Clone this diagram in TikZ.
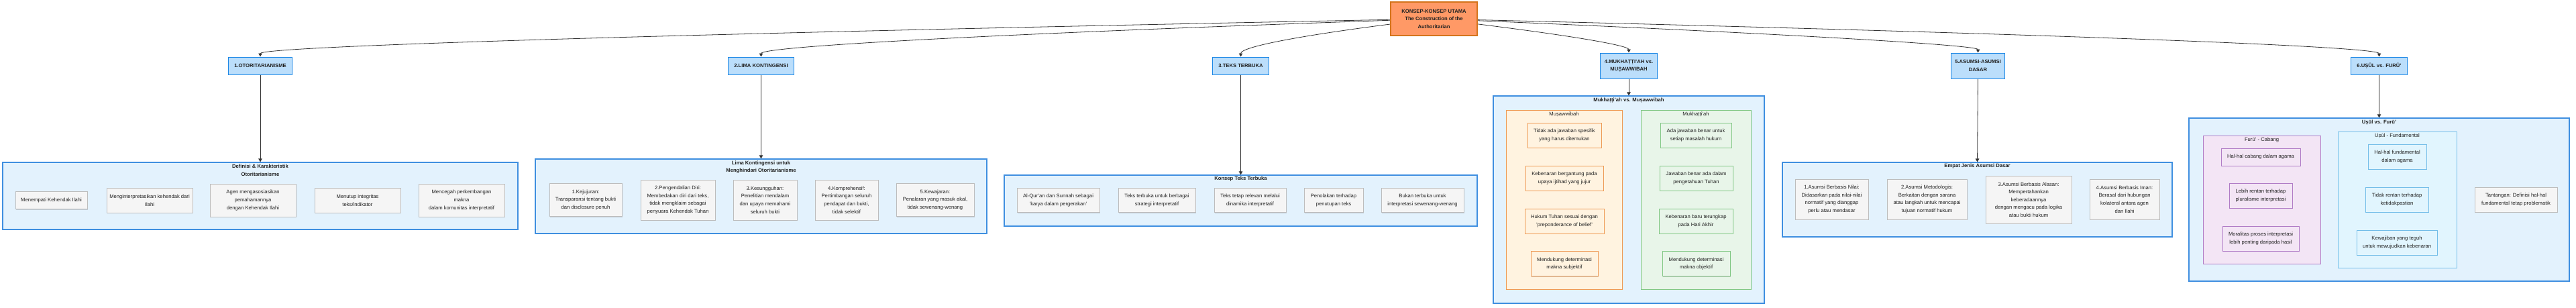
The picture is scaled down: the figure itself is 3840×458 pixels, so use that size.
\documentclass[tikz,border=0pt]{standalone}
\usepackage{fontspec}
\setmainfont{Liberation Sans}
\usetikzlibrary{arrows.meta,calc,fit,shadows}
\definecolor{txt}{HTML}{222222}
\definecolor{rootfill}{HTML}{FF9966}
\definecolor{rootdraw}{HTML}{D4741C}
\definecolor{nfill}{HTML}{BBDEFB}
\definecolor{ndraw}{HTML}{1E88E5}
\definecolor{cfill}{HTML}{E3F2FD}
\definecolor{cdraw}{HTML}{3F8FE0}
\definecolor{gfill}{HTML}{F5F5F5}
\definecolor{gdraw}{HTML}{BDBDBD}
\definecolor{ofill}{HTML}{FFF3E0}
\definecolor{odraw}{HTML}{EE9A55}
\definecolor{grfill}{HTML}{E8F5E9}
\definecolor{grdraw}{HTML}{81C784}
\definecolor{pfill}{HTML}{F3E5F5}
\definecolor{pdraw}{HTML}{B07CC6}
\definecolor{lbfill}{HTML}{E1F5FE}
\definecolor{lbdraw}{HTML}{73BDE8}
\definecolor{edgec}{HTML}{333333}
\pgfdeclarelayer{background}
\pgfsetlayers{background,main}
\newcommand{\fsz}{\fontsize{7.65}{11.6}\selectfont}
\begin{document}
\begin{tikzpicture}[x=1pt,y=-1pt,
  wh/.style n args={2}{minimum width=#1pt,minimum height=#2pt},
  shd/.style={drop shadow={shadow xshift=0.6pt,shadow yshift=-1pt,fill=black,opacity=0.15}},
  box/.style={draw,align=center,font=\fsz,text=txt,inner sep=0pt,line width=0.8pt,shd},
  gbox/.style={box,fill=gfill,draw=gdraw},
  obox/.style={box,fill=ofill,draw=odraw},
  grbox/.style={box,fill=grfill,draw=grdraw},
  pbox/.style={box,fill=pfill,draw=pdraw},
  lbbox/.style={box,fill=lbfill,draw=lbdraw},
  topnode/.style={draw=ndraw,fill=nfill,line width=1pt,align=center,font=\fsz\bfseries,text=txt,inner xsep=9pt,inner ysep=0pt,minimum height=26pt,shd},
  rootnode/.style={draw=rootdraw,fill=rootfill,line width=1.6pt,align=center,font=\fsz\bfseries,text=txt,inner sep=0pt,shd},
  clus/.style={draw=cdraw,fill=cfill,line width=1.2pt,inner sep=0pt,shd},
  sub/.style={line width=1pt,inner sep=0pt},
  ctitle/.style={font=\fsz\bfseries,text=txt,align=center,inner sep=0pt},
  stitle/.style={font=\fsz,text=txt,align=center,inner sep=0pt},
  edge/.style={draw=edgec,line width=0.8pt,-{Triangle[length=5pt,width=5.5pt]}},
]
\begin{pgfonlayer}{background}
\fill[white] (0,0) rectangle (3840,458);
\end{pgfonlayer}
\useasboundingbox (0,0) rectangle (3840,458);

% root
\node[rootnode,wh={129}{50}] (root) at (2137.5,28) {KONSEP-KONSEP UTAMA\\The Construction of the\\Authoritarian};

% level 1
\node[topnode] (n1) at (388,98) {1.OTORITARIANISME};
\node[topnode] (n2) at (1134.5,98) {2.LIMA KONTINGENSI};
\node[topnode] (n3) at (1849.5,98) {3.TEKS TERBUKA};
\node[topnode,minimum height=38pt,inner xsep=6pt] (n4) at (2428,98) {4.MUKHAṬṬI'AH vs.\\MUṢAWWIBAH};
\node[topnode,minimum height=38pt,inner xsep=6pt] (n5) at (2948.5,98) {5.ASUMSI-ASUMSI\\DASAR};
\node[topnode] (n6) at (3546.5,98) {6.UṢŪL vs. FURŪ'};

% cluster 1
\node[clus,fit={(4,242)(772,342)}] (c1) {};
\node[ctitle] (t1) at (388,254) {Definisi \& Karakteristik\\Otoritarianisme};
\node[gbox,wh={107}{26}] (a1) at (76.5,298.5) {Menempati Kehendak Ilahi};
\node[gbox,wh={128}{37}] (a2) at (223,298.5) {Menginterpretasikan kehendak dari\\Ilahi};
\node[gbox,wh={128}{49}] (a3) at (377,298.5) {Agen mengasosiasikan\\pemahamannya\\dengan Kehendak Ilahi};
\node[gbox,wh={128}{37}] (a4) at (533,298.5) {Menutup integritas\\teks/indikator};
\node[gbox,wh={128}{49}] (a5) at (688,298.5) {Mencegah perkembangan\\makna\\dalam komunitas interpretatif};

% cluster 2
\node[clus,fit={(798,237)(1471,348)}] (c2) {};
\node[ctitle] (t2) at (1134.5,249) {Lima Kontingensi untuk\\Menghindari Otoritarianisme};
\node[gbox,wh={108}{49}] (b1) at (873,298) {1.Kejujuran:\\Transparansi tentang bukti\\dan disclosure penuh};
\node[gbox,wh={111}{60}] (b2) at (1010.5,298) {2.Pengendalian Diri:\\Membedakan diri dari teks,\\tidak mengklaim sebagai\\penyuara Kehendak Tuhan};
\node[gbox,wh={95}{60}] (b3) at (1140.5,298) {3.Kesungguhan:\\Penelitian mendalam\\dan upaya memahami\\seluruh bukti};
\node[gbox,wh={94}{60}] (b4) at (1262,298) {4.Komprehensif:\\Pertimbangan seluruh\\pendapat dan bukti,\\tidak selektif};
\node[gbox,wh={116}{49}] (b5) at (1394,298) {5.Kewajaran:\\Penalaran yang masuk akal,\\tidak sewenang-wenang};

% cluster 3
\node[clus,fit={(1497,261)(2202,337)}] (c3) {};
\node[ctitle] (t3) at (1849.5,267) {Konsep Teks Terbuka};
\node[gbox,wh={123}{36}] (d1) at (1577.5,298.5) {Al-Qur'an dan Sunnah sebagai\\'karya dalam pergerakan'};
\node[gbox,wh={115}{36}] (d2) at (1724.5,298.5) {Teks terbuka untuk berbagai\\strategi interpretatif};
\node[gbox,wh={107}{36}] (d3) at (1863.5,298.5) {Teks tetap relevan melalui\\dinamika interpretatif};
\node[gbox,wh={88}{36}] (d4) at (1988,298.5) {Penolakan terhadap\\penutupan teks};
\node[gbox,wh={123}{36}] (d5) at (2120.5,298.5) {Bukan terbuka untuk\\interpretasi sewenang-wenang};

% cluster 4
\node[clus,fit={(2226,143)(2630,452)}] (c4) {};
\node[ctitle] (t4) at (2428,149.5) {Mukhaṭṭi'ah vs. Muṣawwibah};
\node[sub,draw=odraw,fill=ofill,fit={(2245,164)(2418,431)}] (s4a) {};
\node[stitle] (s4at) at (2331.5,170.5) {Muṣawwibah};
\node[sub,draw=grdraw,fill=grfill,fit={(2446,164)(2610,431)}] (s4b) {};
\node[stitle] (s4bt) at (2528,170.5) {Mukhaṭṭi'ah};
\node[obox,wh={110}{37}] (o1) at (2332,201.5) {Tidak ada jawaban spesifik\\yang harus ditemukan};
\node[obox,wh={116}{37}] (o2) at (2332,265.5) {Kebenaran bergantung pada\\upaya ijtihad yang jujur};
\node[obox,wh={118}{37}] (o3) at (2332,329.5) {Hukum Tuhan sesuai dengan\\'preponderance of belief'};
\node[obox,wh={100}{37}] (o4) at (2332,393) {Mendukung determinasi\\makna subjektif};
\node[grbox,wh={106}{37}] (g1) at (2528,201.5) {Ada jawaban benar untuk\\setiap masalah hukum};
\node[grbox,wh={109}{37}] (g2) at (2528.5,265.5) {Jawaban benar ada dalam\\pengetahuan Tuhan};
\node[grbox,wh={110}{37}] (g3) at (2528,329.5) {Kebenaran baru terungkap\\pada Hari Akhir};
\node[grbox,wh={101}{37}] (g4) at (2528.5,393) {Mendukung determinasi\\makna objektif};

% cluster 5
\node[clus,fit={(2657,242)(3238,353)}] (c5) {};
\node[ctitle] (t5) at (2947.5,248) {Empat Jenis Asumsi Dasar};
\node[gbox,wh={109}{60}] (e1) at (2730.5,297) {1.Asumsi Berbasis Nilai:\\Didasarkan pada nilai-nilai\\normatif yang dianggap\\perlu atau mendasar};
\node[gbox,wh={119}{60}] (e2) at (2872.5,297) {2.Asumsi Metodologis:\\Berkaitan dengan sarana\\atau langkah untuk mencapai\\tujuan normatif hukum};
\node[gbox,wh={128}{71}] (e3) at (3024,297.5) {3.Asumsi Berbasis Alasan:\\Mempertahankan\\keberadaannya\\dengan mengacu pada logika\\atau bukti hukum};
\node[gbox,wh={104}{60}] (e4) at (3167,297) {4.Asumsi Berbasis Iman:\\Berasal dari hubungan\\kolateral antara agen\\dan Ilahi};

% cluster 6
\node[clus,fit={(3263,176)(3830,419)}] (c6) {};
\node[ctitle] (t6) at (3546.5,182.5) {Uṣūl vs. Furū'};
\node[sub,draw=pdraw,fill=pfill,fit={(3284,202)(3459,393)}] (s6a) {};
\node[stitle] (s6at) at (3371.5,208.5) {Furū' - Cabang};
\node[sub,draw=lbdraw,fill=lbfill,fit={(3485,196)(3662,399)}] (s6b) {};
\node[stitle] (s6bt) at (3573.5,202.5) {Uṣūl - Fundamental};
\node[pbox,wh={118}{26}] (f1) at (3370,234) {Hal-hal cabang dalam agama};
\node[pbox,wh={94}{37}] (f2) at (3370,291.5) {Lebih rentan terhadap\\pluralisme interpretasi};
\node[pbox,wh={114}{37}] (f3) at (3370,355.5) {Moralitas proses interpretasi\\lebih penting daripada hasil};
\node[lbbox,wh={87}{37}] (u1) at (3573.5,233.5) {Hal-hal fundamental\\dalam agama};
\node[lbbox,wh={94}{37}] (u2) at (3573,297.5) {Tidak rentan terhadap\\ketidakpastian};
\node[lbbox,wh={120}{37}] (u3) at (3573,361.5) {Kewajiban yang teguh\\untuk mewujudkan kebenaran};
\node[gbox,wh={123}{37}] (h1) at (3750.5,297.5) {Tantangan: Definisi hal-hal\\fundamental tetap problematik};

\begin{pgfonlayer}{background}
\coordinate (ym) at (0,62);
\foreach \t in {n1,n2,n3,n4,n5,n6}{
  \draw[edge] (root.center) .. controls ($(root.center)!0.667!(\t.north |- ym)$) and ($(\t.north)!0.667!(\t.north |- ym)$) .. (\t.north);
}
\end{pgfonlayer}
\draw[edge] (n1.south) -- (c1.north);
\draw[edge] (n2.south) -- (c2.north);
\draw[edge] (n3.south) -- (c3.north);
\draw[edge] (n4.south) -- (c4.north);
\draw[edge] (n5.south) -- (c5.north);
\draw[edge] (n6.south) -- (c6.north);
\end{tikzpicture}
\end{document}
